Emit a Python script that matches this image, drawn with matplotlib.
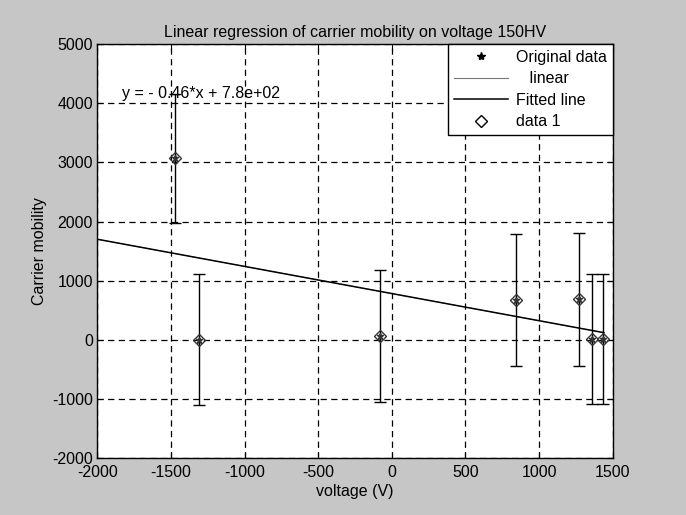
import matplotlib
matplotlib.use("Agg")
import matplotlib.pyplot as plt
from matplotlib.lines import Line2D

plt.rcParams['font.family'] = ['Liberation Sans', 'DejaVu Sans']
plt.rcParams['axes.unicode_minus'] = False

# ---- data ----
voltage = [-1473, -1312, -79, 845, 1268, 1363, 1435]
mobility = [3070, 0, 60, 675, 683, 10, 10]
mobility_err = [1090, 1110, 1120, 1115, 1125, 1100, 1100]
fit_slope = -0.46
fit_intercept = 780
fit_x_range = [-2000, 1440]
x_ticks = [-2000, -1500, -1000, -500, 0, 500, 1000, 1500]
y_ticks = [-2000, -1000, 0, 1000, 2000, 3000, 4000, 5000]
title = "Linear regression of carrier mobility on voltage 150HV"
eq_text = "y = - 0.46*x + 7.8e+02"

fit_y = [fit_slope * v + fit_intercept for v in fit_x_range]

fig = plt.figure(figsize=(6.86, 5.15), dpi=100, facecolor='#c6c6c6')
ax = fig.add_axes([0.1418, 0.1113, 0.8931 - 0.1418, 0.9138 - 0.1113])
ax.set_facecolor('white')

ax.set_xlim(-2000, 1500)
ax.set_ylim(-2000, 5000)
ax.set_xticks(x_ticks)
ax.set_yticks(y_ticks)
ax.tick_params(direction='in', length=4, width=0.8, labelsize=11.5,
               colors='black', top=True, right=True)
ax.tick_params(axis='x', pad=5)
ax.tick_params(axis='y', pad=3)
ax.grid(True, color='black', linestyle=(0, (5, 3.5)), linewidth=0.9)
ax.set_axisbelow(True)
for s in ax.spines.values():
    s.set_linewidth(1.0)
    s.set_color('black')

# linear (thin grey) and fitted line
ax.plot(fit_x_range, fit_y, color='#888888', linewidth=0.6, zorder=2)
ax.plot(fit_x_range, fit_y, color='black', linewidth=1.1, zorder=3)

# error bars with diamonds
ax.errorbar(voltage, mobility, yerr=mobility_err, fmt='D', markersize=6,
            markerfacecolor='none', markeredgecolor='#333333', markeredgewidth=1.0,
            ecolor='black', elinewidth=1.0, capsize=4, capthick=1.0, zorder=4)
# original data asterisks
ax.plot(voltage, mobility, linestyle='none', marker='*', markersize=5,
        color='#333333', zorder=5)

ax.text(-1830, 4170, eq_text, fontsize=11.5, ha='left', va='center', zorder=6)

ax.set_title(title, fontsize=11.5, pad=5)
ax.set_xlabel("voltage (V)", fontsize=11.5, labelpad=3)
ax.set_ylabel("Carrier mobility", fontsize=11.5, labelpad=4)

handles = [
    Line2D([], [], linestyle='none', marker='*', markersize=6, color='black'),
    Line2D([], [], color='#777777', linewidth=0.8),
    Line2D([], [], color='black', linewidth=1.1),
    Line2D([], [], linestyle='none', marker='D', markersize=6,
           markerfacecolor='none', markeredgecolor='black'),
]
labels = ["Original data", "   linear", "Fitted line", "data 1"]
leg = ax.legend(handles, labels, loc='upper right', borderaxespad=0,
                fontsize=11.5, frameon=True, fancybox=False, handlelength=3.4,
                labelspacing=0.4, borderpad=0.35, handletextpad=0.5)
leg.get_frame().set_edgecolor('black')
leg.get_frame().set_linewidth(1.0)
leg.get_frame().set_alpha(1)
leg.set_zorder(10)

fig.savefig("out.png", dpi=100, facecolor=fig.get_facecolor())
